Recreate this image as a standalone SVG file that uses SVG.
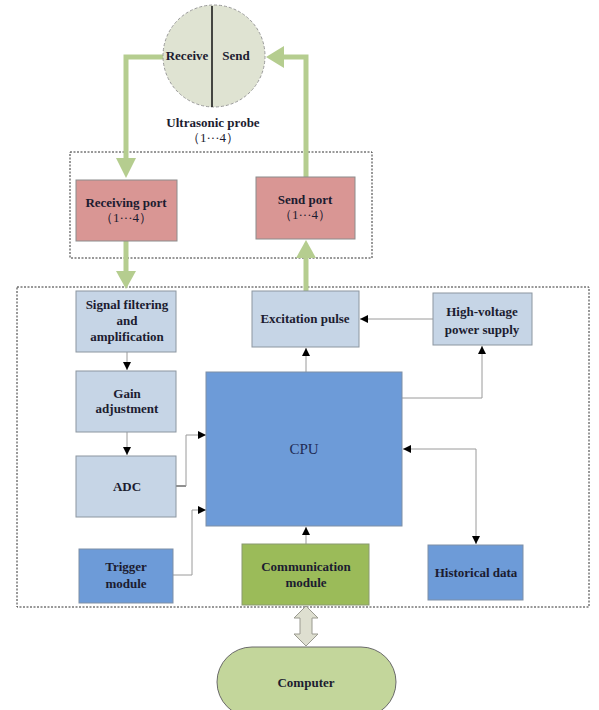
<svg xmlns="http://www.w3.org/2000/svg" width="599" height="710" viewBox="0 0 599 710">
<style>
text{font-family:"Liberation Serif","Times New Roman",serif;font-weight:bold;font-size:13px;fill:#1c1c30;text-anchor:middle}
.lb{fill:#c6d5e6;stroke:#8c96a0;stroke-width:1}
.db{fill:#6d9bd8;stroke:#7f8fa6;stroke-width:1}
.pk{fill:#d99694;stroke:#8c8c8c;stroke-width:1}
.dot{fill:none;stroke:#333;stroke-width:1;stroke-dasharray:2,1.5}
.ln{fill:none;stroke:#9a9a9a;stroke-width:1}
.gr{fill:none;stroke:#b5cd8f;stroke-width:5}
.gh{fill:#b5cd8f}
</style>
<defs>
<marker id="ah" viewBox="0 0 10 10" refX="10" refY="5" markerWidth="8" markerHeight="8" markerUnits="userSpaceOnUse" orient="auto">
<path d="M0,0 L10,5 L0,10 Z" fill="#000"/>
</marker>
</defs>
<rect class="dot" x="70" y="152" width="302" height="106"/>
<rect class="dot" x="17" y="287" width="572" height="320"/>
<g id="connectors">
<path class="gr" d="M165,57 H126 V160"/>
<polygon class="gh" points="116,158 136,158 126,178"/>
<path class="gr" d="M126,241 V273"/>
<polygon class="gh" points="116,271 136,271 126,289"/>
<path class="gr" d="M306,177 V57 H282"/>
<polygon class="gh" points="284,46 284,68 266,57"/>
<path class="gr" d="M306,291 V256"/>
<polygon class="gh" points="296,258 316,258 306,240"/>
<path class="ln" d="M127,352 V370" marker-end="url(#ah)"/>
<path class="ln" d="M127,432 V455" marker-end="url(#ah)"/>
<path class="ln" d="M433,319 H360" marker-end="url(#ah)"/>
<path class="ln" d="M306,372 V348" marker-end="url(#ah)"/>
<path class="ln" d="M402,398 H482 V346" marker-end="url(#ah)"/>
<path class="ln" d="M476,449 H403" marker-end="url(#ah)"/>
<path class="ln" d="M476,449 V544" marker-end="url(#ah)"/>
<path d="M176,486 H186" stroke="#222" stroke-width="1"/>
<path class="ln" d="M186,486 V435 H206" marker-end="url(#ah)"/>
<path class="ln" d="M173,575 H192 V510 H206" marker-end="url(#ah)"/>
<path class="ln" d="M306,544 V527" marker-end="url(#ah)"/>
<polygon points="306,606 318,618 312,618 312,634 318,634 306,646 294,634 300,634 300,618 294,618" fill="#dedfd0" stroke="#9a9a90" stroke-width="1"/>
</g>
<g id="probe">
<circle cx="214" cy="56" r="51" fill="#dfe3d2" stroke="#9a9a9a" stroke-width="1" stroke-dasharray="3,2"/>
<line x1="212" y1="6" x2="212" y2="107" stroke="#111" stroke-width="1.5"/>
<text x="187" y="60">Receive</text>
<text x="236" y="60">Send</text>
<text x="213" y="127">Ultrasonic probe</text>
<text x="213" y="142" style="font-weight:normal">（1···4）</text>
</g>
<g id="receiving-port">
<rect class="pk" x="76" y="180" width="101" height="61"/>
<text x="126" y="207">Receiving port</text>
<text x="126" y="222" style="font-weight:normal">（1···4）</text>
</g>
<g id="send-port">
<rect class="pk" x="256" y="177" width="99" height="62"/>
<text x="305" y="204">Send port</text>
<text x="305" y="219" style="font-weight:normal">（1···4）</text>
</g>
<g id="signal-filtering">
<rect class="lb" x="76" y="291" width="100" height="61"/>
<text x="127" y="309">Signal filtering</text>
<text x="127" y="325">and</text>
<text x="127" y="341">amplification</text>
</g>
<g id="gain">
<rect class="lb" x="76" y="371" width="100" height="61"/>
<text x="127" y="398">Gain</text>
<text x="127" y="413">adjustment</text>
</g>
<g id="adc">
<rect class="lb" x="76" y="456" width="100" height="61"/>
<text x="127" y="491">ADC</text>
</g>
<g id="trigger">
<rect class="db" x="79" y="549" width="94" height="54"/>
<text x="126" y="571">Trigger</text>
<text x="126" y="588">module</text>
</g>
<g id="excitation">
<rect class="lb" x="252" y="291" width="107" height="56"/>
<text x="305" y="323">Excitation pulse</text>
</g>
<g id="high-voltage">
<rect class="lb" x="433" y="293" width="99" height="52"/>
<text x="482" y="316">High-voltage</text>
<text x="482" y="334">power supply</text>
</g>
<g id="cpu">
<rect class="db" x="206" y="372" width="196" height="154"/>
<text x="304" y="454" style="font-weight:normal;font-size:15px;fill:#1f2c55">CPU</text>
</g>
<g id="communication">
<rect x="242" y="544" width="127" height="61" fill="#9bbb59" stroke="#8a9a70" stroke-width="1"/>
<text x="306" y="571">Communication</text>
<text x="306" y="587">module</text>
</g>
<g id="historical">
<rect class="db" x="428" y="545" width="95" height="55"/>
<text x="476" y="577">Historical data</text>
</g>
<g id="computer">
<rect x="217" y="647" width="179" height="70" rx="35" ry="35" fill="#c3d69b" stroke="#6a6a6a" stroke-width="1"/>
<text x="306" y="687">Computer</text>
</g>
</svg>
